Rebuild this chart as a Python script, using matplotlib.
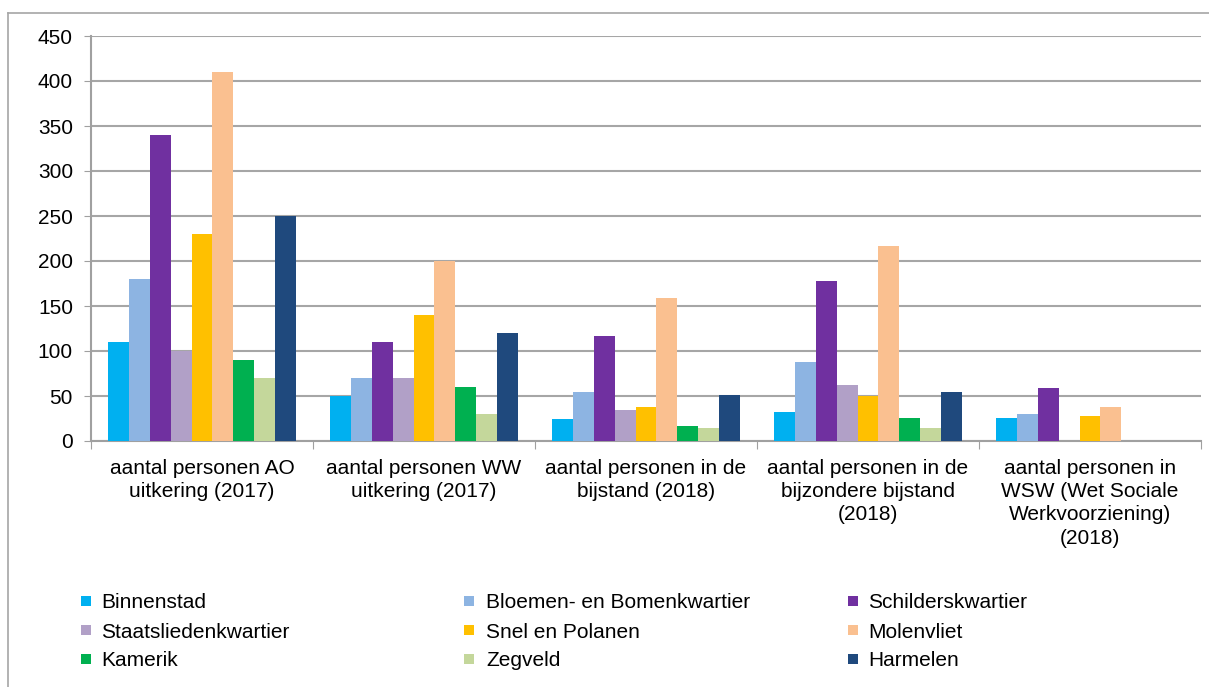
import matplotlib
matplotlib.use("Agg")
import matplotlib.pyplot as plt
import numpy as np
from matplotlib.lines import Line2D
from matplotlib.patches import Rectangle

plt.rcParams['font.family'] = ['Liberation Sans', 'DejaVu Sans']

categories = [
    "aantal personen AO\nuitkering (2017)",
    "aantal personen WW\nuitkering (2017)",
    "aantal personen in de\nbijstand (2018)",
    "aantal personen in de\nbijzondere bijstand\n(2018)",
    "aantal personen in\nWSW (Wet Sociale\nWerkvoorziening)\n(2018)",
]
series_names = ["Binnenstad", "Bloemen- en Bomenkwartier", "Schilderskwartier",
                "Staatsliedenkwartier", "Snel en Polanen", "Molenvliet",
                "Kamerik", "Zegveld", "Harmelen"]
binnenstad = [110, 50, 25, 32, 26]
bloemen = [180, 70, 55, 88, 30]
schilders = [340, 110, 117, 178, 59]
staats = [100, 70, 35, 62, 0]
snel = [230, 140, 38, 50, 28]
molenvliet = [410, 200, 159, 217, 38]
kamerik = [90, 60, 17, 26, 0]
zegveld = [70, 30, 14, 15, 0]
harmelen = [250, 120, 51, 54, 0]
series_values = [binnenstad, bloemen, schilders, staats, snel, molenvliet,
                 kamerik, zegveld, harmelen]
colors = ["#00B0F0", "#8DB4E2", "#7030A0", "#B1A0C7", "#FFC000", "#FAC090",
          "#00B050", "#C4D79B", "#1F497D"]
yticks = [0, 50, 100, 150, 200, 250, 300, 350, 400, 450]

FS = 15
W, H = 1209, 687
fig = plt.figure(figsize=(W / 100, H / 100), dpi=100)

# outer frame
fig.add_artist(Line2D([8 / W, 8 / W], [0, 1 - 13 / H], transform=fig.transFigure,
                      color="#A6A6A6", lw=1.2))
fig.add_artist(Line2D([8 / W, 1], [1 - 13 / H, 1 - 13 / H], transform=fig.transFigure,
                      color="#A6A6A6", lw=1.2))

left, right = 91 / W, 1201 / W
bottom, top = 1 - 441 / H, 1 - 36 / H
ax = fig.add_axes([left, bottom, right - left, top - bottom])

n = len(series_names)
group_w = 0.85
bw = group_w / n
x = np.arange(len(categories))
for i, (name, vals, c) in enumerate(zip(series_names, series_values, colors)):
    ax.bar(x - group_w / 2 + bw * (i + 0.5), vals, width=bw, color=c, label=name,
           zorder=3, linewidth=0)

ax.set_xlim(-0.5, len(categories) - 0.5)
ax.set_ylim(0, 450)
ax.set_yticks(yticks)
ax.tick_params(axis='y', labelsize=FS, length=5, color="#A0A0A0", pad=8)
ax.yaxis.grid(True, color="#A6A6A6", lw=1.5, zorder=0)
ax.set_axisbelow(True)

ax.set_xticks(np.arange(len(categories) + 1) - 0.5)
ax.set_xticklabels([])
ax.tick_params(axis='x', length=6, color="#A0A0A0")
for i, lab in enumerate(categories):
    ax.text(i, -20, lab, ha='center', va='top', fontsize=FS, linespacing=1.28,
            transform=ax.transData)

for s in ["top", "right"]:
    ax.spines[s].set_visible(False)
for s in ["left", "bottom"]:
    ax.spines[s].set_color("#A0A0A0")
    ax.spines[s].set_linewidth(1.5)

# legend, 3 columns, row-wise
marker_x = [81, 464, 848]
text_x = [101, 486, 868]
row_y = [601, 630, 659]
for k, (name, c) in enumerate(zip(series_names, colors)):
    r, col = divmod(k, 3)
    fig.add_artist(Rectangle((marker_x[col] / W, 1 - (row_y[r] + 5) / H), 10 / W, 10 / H,
                             transform=fig.transFigure, color=c, lw=0))
    fig.text(text_x[col] / W, 1 - row_y[r] / H, name, fontsize=FS, va='center_baseline',
             ha='left')

fig.savefig("out.png", dpi=100)
